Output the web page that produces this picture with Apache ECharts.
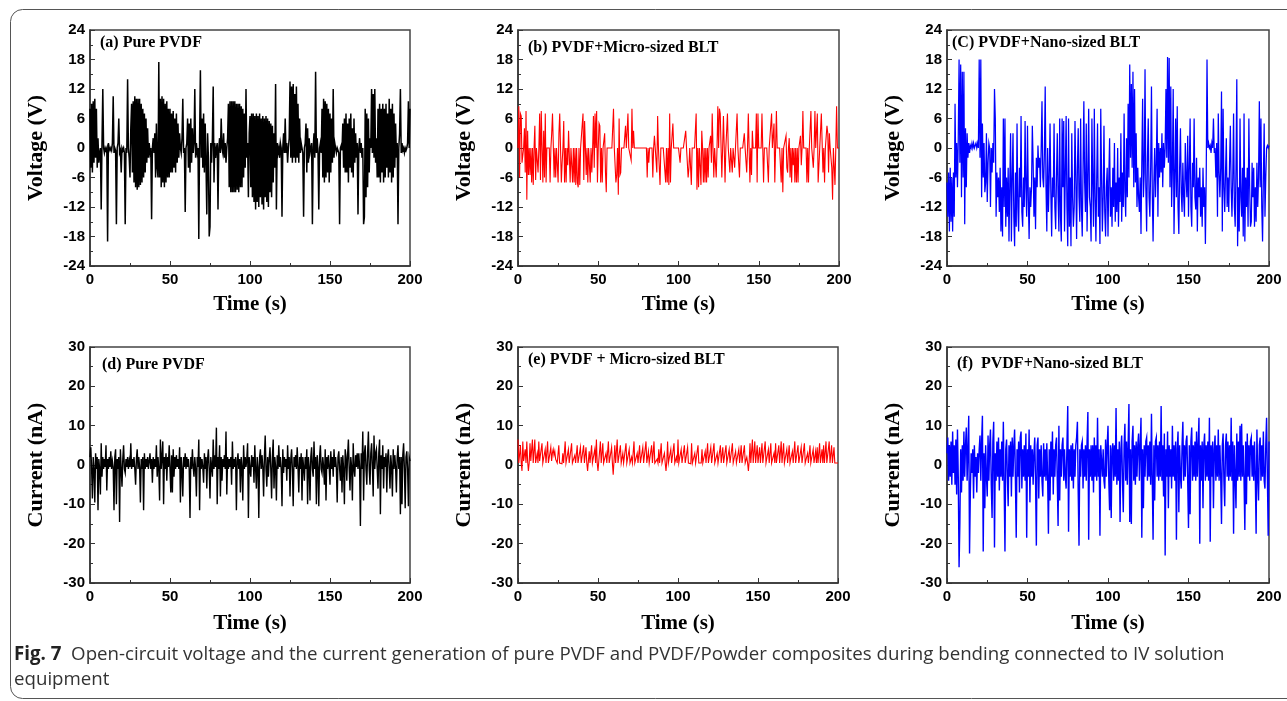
<!DOCTYPE html>
<html>
<head>
<meta charset="utf-8">
<script src="https://cdn.jsdelivr.net/npm/echarts@6/dist/echarts.min.js"></script>
<style>
html,body{margin:0;padding:0;background:#fff;}
#chart{width:1287px;height:701px;}
</style>
</head>
<body>
<div id="chart"></div>
<script>
// ---------------- DATA (one value every 0.5 s, 0..200 s) ----------------
const SAMPLE_STEP_S = 0.5;
const timeTicks = [0, 50, 100, 150, 200];
const voltageTicks = [-24, -18, -12, -6, 0, 6, 12, 18, 24];
const currentTicks = [-30, -20, -10, 0, 10, 20, 30];

// (a) Pure PVDF – open-circuit voltage (V)
const voltagePurePVDF = [
 8,-4,9,-5,9.5,-3,10,-2,8,-4, 2,-3,-1,0,-12.5,1,12,0,-1,0,
 -0.5,0,-19,1,0,-0.5,0,-0.5,1,10.5, -1,0,-0.5,-15.5,0,1,6,-1,-0.5,-5,
 0,-0.5,0,-1,-15.5,0,-1,14,0,-2, -6,4,9,-5,9.5,-7,10.5,-8,10,-8.5,
 10,-8,10,-7.5,9,-7,8,-6,7,-5, 6,-3,4,-2,1,-1,0,-14.5,0,2,
 -1,3,-6,5,-4,-6,17.5,-6,10,-8, 10.5,-7,10,-8,9,-7,9.5,-6,8,-6,
 8,-5,7,-5,7.5,-4,6,-5,7,-3, 5,-2,3,0,-1,2,10,-1,0,-13,
 0,1,6,-4,5,-5,6,-3,4,-1, 1,12,-2,1,-1,0,-18.5,2,15.8,-2,
 6,-4,7,-5,5,-3,-13.5,3,-2,-18, -16,1,-3,2,12.5,-7,1,-2,0,1,
 -12.5,0,2,-1,6,0,-1,3,-2,1, -3,0,2,9,-8,9.5,-9,9.5,-9,9.5,
 -9,9.5,-9,9,-8.5,9,-9,9,-8,8.5, -8,8,-6,7,-4,12,-2,1,-10,3,
 6.5,-8,7,-10,7,-11,6.5,-12.5,7,-11, 6.5,-12,7,-10,6,-11.5,6.5,-12.5,6,-10,
 6.5,-11,6,-12,5.5,-9,5,-10,4.5,-7, 3,-4,13,-12.5,1,-1,0,-2,1,0,
 -14,0,3,-1,6,-1,1,-3,0,2, 13.5,-2,12.5,-3,13,-2,11,-3,12.5,-2,
 9,-3,6,-1,1,0,-1,-14,0,1, 5,-5,4,-3,2,-1,0,1,-15.5,0,
 3,-2,15.5,-1,2,-1,-12.5,0,1,-1, 8,-6,10,-7,9.5,-6,9,-5,8,-7,
 7,-5,6,-3,12,-2,1,0,-1,0, 0,-1,-15.5,0,0.5,-0.5,5,-4,6,-5,
 7,-5,5,-7,6,-4,7,-5,4,-6, 6,-3,3,-2,1,-13.5,0,2,-1,1,
 -2,0,-15.5,-14,8,-10,7,-8,6,-5, 2,0,12,-1,11,-2,12,-3,2,-6,
 8,-6,9,-7,8,-5,9,-7,8,-6, 9,-4,7,-6,10,-5,8,-7,9,-6,
 7,-4,5,-2,1,-15.5,0,3,12,-1, 1,-0.5,0,-1,0,-0.5,0,1,9.5,0,
 8
];

// (b) PVDF + Micro-sized BLT – open-circuit voltage (V)
const voltageMicroBLT = [
 0,8.5,-6,7,6.5,-3,-3,0,4,-5, 7.5,-10.5,3.5,-5.5,0,-5.5,0,-7,0,-7.5,
 0,4.5,-6.5,0,-2.5,-5,0,7,-6.5,7.5, 0,-7,3.5,-6,7,-7,0,0,0,0,
 -7,0,3,7,7,-6,0,-6,0,0, -7,3,7,7,-7,-3,0,5.5,-7,0,
 -7,0,-3.5,3.5,3.5,-7,0,0,-7,0, -7,0,-7.5,0,-7,-8,0,-7.5,0,0,
 0,7,-6.5,5.5,0,-5.5,0,-7,0,0, -7,0,-5,0,6.5,-4,7,0,7.5,-7,
 0,5,4.5,-7,0,-7,0,0,3,-5, -9,0,0,0,0,0,0,0,0,8,
 0,0,-7,-5.5,0,-9.5,6,-5.5,-5,0, 0,0,0,0,4.5,0,0,7,0,0,
 0,-2.5,8,0,3.5,0,0,0,0,0, 0,0,0,0,0,0,0,0,0,0,
 0,-6,0,-3,0,0,0,0,-6,0, 2.5,0,0,-5,6.5,0,0,-7.5,0,0,
 0,0,0,0,-7,0,-7,0,-7.5,7, -7,0,0,5,0,0,0,0,0,0,
 0,0,-3,0,0,0,0,0,0,3.5, 0,0,-6,-4,0,0,-7.5,0,0,0,
 0,0,7,-8.5,0,-8,0,0,-7.5,3.5, 0,-7,0,-7,0,-7,0,-6,0,0,
 2.5,-3,7,0,-6,0,0,-6,0,8.5, 0,8,7,7,-6,0,6.5,0,-7,0,
 0,7,0,0,-5,0,0,-5,0,0, -4,0,0,7,0,0,-6,0,0,0,
 0,0,3,0,0,-5,0,7,0,-7, 0,-5.5,3.5,0,0,0,0,7,-7,7,
 0,0,0,0,7,0,-7,0,0,0, 0,0,-7,0,0,0,7,0,0,5,
 -7,0,7.5,0,0,0,0,0,-7,0, -9,0,0,0,2.5,-4,-5,0,2,-6,
 0,-7,0,-3.5,0,-7,0,-7,0,-7, 0,0,2.5,-3.5,0,7.5,0,0,0,0,
 -7,0,-7,0,0,7.5,0,0,-4,0, 7.5,0,0,7,-7,-7,0,0,7,7,
 -5,0,-7,0,0,4.5,3,-5,3,0, 0,-4,-10.5,0,0,-7.5,0,8.5,0,0,
 0
];

// (c) PVDF + Nano-sized BLT – open-circuit voltage (V)
const voltageNanoBLT = [
 -7,-14,-5,-17,-4,-15,-6,-17,-5,-14, 9,-6,1,-8,2,18,-3,17,-10,15.5,
 -6,15.5,-15.5,4,-8,3,-2,1,-1,0.5, 0,1,0,1,0,0.5,1,0,1,0,
 18,-2,18,-10,5,-6,1,-9,-7,3, -11,-3,1,0,-12,0,-5,1,-3,12,
 6,-14,-5,-10,-6,-13,-4,-17,-8,-18, 6,-12,6,-16,-6,-14,-4,-19,-7,3,
 -19,-6,3,-14,-20,-5,-16,5,-12,-17, -4,-10,6.5,-13,-16,-6,-12,5.5,-8,-14,
 4.5,-10,-18.5,-8,-12,-8,4.5,-3,-14,-6, -16.5,-2,-8,0.5,-4,-2,-8,0,9.5,-6,
 -8,-1,12.5,-8,-17,0,-13,-6,5,-9, -18,-6,-10,5,-12,-16.5,-6,3,-10,-17,
 6,-14,-19,6,-8,5.5,-17,-5,6.5,-12, -20,6,-16,-6,-20,3,-10,-16,-12,5.5,
 -6,-18.5,-4,4,-10,-15,6,-12,-18,-4, 9.5,-7,-13,5,-17,-6,8,-10,-12,-19,
 6,-7,-16,8,-10,-19,-6,5,-14,-8, -19.5,8,-6,-17,-10,4.5,-13,-18,-8,-4,
 -18,-6,2,-14,-8,-16,-4,-12,1,-15, -7,-13,0,-16,-6,-11,3,-15,-5,-12,
 7,-9,-14,2,-10,9,-6,17,-2,13, -4,15.5,-8,12,-7,3,-12,-4,-10,-13,
 -6,-17.5,-3,10,-10,-5,16,-8,-17,-2, 6,-10,-14,-4,12.5,-9,-19,-7,0,-10,
 -3,8,-14,1,-6,0,-5,3,-8,1, -4,0,12,-2,18.5,-3,18.3,-8,12.5,-12,
 -4,12,-17.5,-6,6,-10,8.5,-12,-17.5,-4, 4,-9,-13,-3,-10,-14,1,-6,-10,2.5,
 -14,-4,6,-12,-16,-3,-8,6,-10,-12.5, -2,-17,-6,-10,-4,-14,-8,-16,-4,-12,
 -8,-19.5,-6,18,0,1,0,0.5,-1,1, 0,6,-1,0,-6,1,-14,7,-5,-10,
 -4,11.5,-17,8,-8,-13,-5,2,-12,-6, -13,-3,4.5,-8,-14,-6,7,-12,-16,-4,
 14,-20,-8,-17,6,-10,-14,-4,-18,7, -19,-6,-12,-4,-16,6,-8,-16,-15,-3,
 -10,-4,-16,-8,-15,-3,-12,-6,9.5,-8, 6,-12,-19,-6,5,-14,-6,0,0.5,0,
 0.5
];

// (d) Pure PVDF – current (nA)
const currentPurePVDF = [
 2,4.5,-1,-8.5,2,-1,-9.5,3,-1,2, -11.5,1.5,-1,-7.5,5.5,-3,2,-1,1.5,-0.5,
 5,-6.5,1.5,-1,2,-0.5,3.5,-1,1,-0.5, -11.5,2,4,-10,1.5,-1,2,-14.5,4,-1,
 -5.5,1.5,5,-1,-2,1.5,-0.5,2,-1,1, -0.5,5.5,-1,1.5,-0.5,2,-1,-5,1.5,4,
 -1,2,-0.5,-9.5,1.5,-1,2,-11.5,3,-1, 1.5,-0.5,2,-1,1,3,-1,1.5,-4.5,2,
 -1,1.5,-0.5,5,-3,2,-1,-9,6.5,-1, 2,6,-10,2,-1,3,-4,2,-0.5,5,
 -1,-7,2.5,-7,4,-3,2,-1,2.5,-0.5, 1.5,-1,4.5,-9.5,2,-1,-8,2,-0.5,3,
 -1,2,-0.5,1.5,-1,-13.5,2,-1,4,-0.5, -3,2,-1,-8,2,-0.5,6.5,-11.5,2,-1,
 1.5,-0.5,-4.5,3,-1,2,-6,1.5,4,-1, -8.5,2,-0.5,-3,6.5,-1,2.5,-0.5,9.5,-10,
 2,-1,5,-8,2,-4,1.5,-0.5,2.5,-1, 8.5,-7.5,2,-1,1.5,-0.5,2,-5,6,-1,
 1.5,-0.5,2,-11.5,1,3,-1,1.5,-7,2, -0.5,-9,5,-1,2,-0.5,1.5,5.5,-13.5,2,
 -1,-3,2.5,-0.5,2,-4.5,5,-1,-6,2, -0.5,-13.5,2,4,-1,2.5,-0.5,-8,2,7.5,
 -1,-5.5,2,-3,1.5,4.5,-1,-8.5,2,6.5, -6,2,-0.5,-9,2.5,-1,5,-0.5,2,-1,
 -10.5,4,-2,2,-0.5,1.5,-4,5,-1,2, -8,1.5,4,-1,-10.5,2,-0.5,2.5,-1,4.5,
 -0.5,-7,2,-1,3,-9,2,-0.5,-4,2, -1,4,-10,2,-0.5,-9,2,4.5,-1,-3,
 6,-1,2,-10,2.5,-0.5,-10.5,2,5,-1, -2,2,-0.5,-5,4,-9,2,-1,2.5,-0.5,
 -5,3.5,-1,2,-3,4,-0.5,2,-1,-9.5, 2,3.5,-1,-4,2,-7,2.5,-1,-10,4,
 2,-4,2.5,6.5,-1,-6.5,2,-0.5,-9,5.5, -1,-3,2.5,-0.5,3,-1,3,-0.5,-15.5,3,
 -1,8.5,-9,3,5,-1,-5,3,8.5,-1, -5,3,5.5,-0.5,-8,7.5,-1,3,4,-1,
 -6,3,6.5,-12.5,2.5,-1,5,-6,2,-0.5, 3,-7,2,4,-1,-6,2.5,-0.5,-8,4,
 -1,2.5,-0.5,-7,2,5,-1,2,-12.5,2, -10,2.5,5.5,-1,-11,2,3.5,-1,-10.5,2,
 1
];

// (e) PVDF + Micro-sized BLT – current (nA)
const currentMicroBLT = [
 6.5,0.5,1,5,0.5,-1.5,6,1,0.5,4, 0.5,6,1,-1.5,0.5,5.5,1,0.5,6.5,0.5,
 1,6.5,0.5,1,3,0.5,6,1,0.5,1.5, 5.5,0.5,1,0.5,4,0.5,1,6,0.5,1,
 0.5,4.5,1,3,4,2.5,3.5,1.5,1,0.5, 0.5,5,0.5,1,0.5,0.3,3,0.5,1,6,
 0.5,1,0.5,4,0.5,1,0.5,5.5,0.5,1, 0.3,2.5,0.5,1,5,0.5,1,0.5,4.5,0.5,
 1,0.5,5,0.5,1,4.5,0.5,-1.5,1,3.5, 0.5,1,5,0.5,1,0.5,4,0.5,6.5,0.5,
 -1.5,1,0.5,6,0.5,1,5.5,0.5,1,0.5, 3,0.5,1,6,0.5,1,0.5,4.5,0.5,-2.5,
 1,5,0.5,1,6.5,0.5,1,0.5,5,0.5, 1,3,0.5,1,0.5,5.5,0.5,1,0.5,4,
 0.5,1,2,0.5,1,6,0.5,1,0.5,3, 0.5,1,5,0.5,1,0.5,4.5,0.5,1,0.5,
 6,0.5,1,3.5,0.5,1,0.5,5,0.5,1, 6,0.5,1,0.5,1.5,0.5,4,0.5,1,5.5,
 0.5,1,0.5,3,0.5,-1.5,1,6,0.5,1, 0.5,4,0.5,1,0.5,5.5,0.5,1,2,0.5,
 6.5,0.5,1,0.5,4,0.5,1,0.5,5,0.5, 1,0.5,4.5,0.5,1,0.5,0.3,5.5,0.5,1,
 0.5,3,0.5,1,0.5,5,0.5,1,0.3,0.5, 4,0.5,1,0.5,3.5,0.5,1,5.5,0.5,1,
 0.5,4.5,0.5,1,0.5,5.5,0.5,1,0.5,3, 0.5,1,0.5,5,0.5,1,4.5,0.5,1,0.5,
 5,0.5,1,0.5,4,0.5,1,0.5,5.5,0.5, 1,0.5,3.5,0.5,1,0.5,4,0.5,1,5,
 0.5,1,0.5,5,0.5,1,2,0.5,-1.5,1, 5.5,0.5,1,6.5,0.5,1,6,0.5,1,5,
 0.5,1,4.5,0.5,1,5.5,0.5,1,0.5,6, 0.5,1,0.5,4,0.5,1,5.5,0.5,1,0.5,
 3,0.5,5.5,0.5,1,0.5,5,0.5,1,6, 0.5,1,5.5,0.5,1,0.5,4,0.5,1,5,
 0.5,1,0.5,3.5,0.5,1,6,0.5,1,0.5, 5,0.5,1,0.5,4.5,0.5,1,0.5,5.5,0.5,
 1,0.5,3,0.5,1,5,0.5,1,0.5,4, 0.5,1,3.5,0.5,4.5,0.5,1,5.5,0.5,1,
 4,0.5,5,0.5,1,6,0.5,1,0.5,6, 0.5,1,5,0.5,1,4.5,0.5,1,0.5,0.5,
 0.5
];

// (f) PVDF + Nano-sized BLT – current (nA)
const currentNanoBLT = [
 3,7,-4,5,-3,6,-5,8.5,-2,5, -5,6.5,-7.5,9,-3,-26,-14.5,4,-7,5,
 -4,8.5,-3,5,9.5,-4,4,12.5,-22.5,-7, 3,-2,4,-8.5,5,-3,2,-7,3,-2,
 4,7.5,-4,6,12.5,-22,3,-11,5,-3, -8,7.5,-4,5,9,-5,-13.5,6,11,-21,
 3,-4,6,-3,7,-6.5,4,-3,6,-4, 11,-5,-22,4,6.5,-3,-10.5,5,-3,6,
 -8,7,-3,5,9,-4,-18.5,4,-3,6, -7,7,8.5,-6,4,-3,5,-4,8,-18.5,
 4,-3,9,-9.5,5,-3,4,-5,3,7, -4,-20.5,5,7,-8.5,4,-3,5,-4,-8,
 5.5,-3,4,-4,5.5,-3,-17.5,4,-9,6, -3,8.5,-7.5,4,-3,5,7,-4,-15.5,10,
 -9,4,-3,5,7,-4,4,-3,-6,5, 15,-17,4,-3,5,-4,5.5,-6,4,-3,
 5,7,11,-7,-20.5,4,-3,5,6,-6, 4,-3,5,-4,6,13.5,-19,4,-3,5,
 -4,5,-7,7,-3,5,-4,12,-3,4, -18,5,5,-3,4,-4,-6,6.5,-3,5,
 10,-4,-11.5,5,-13.5,4,5.5,-4,5,-3, 14.5,-5,4,-4,6,-14.5,4,7.5,-4,-12,
 5,10.5,-4,6,-5,5,15.5,-14.5,4,-15, 6,10,-4,5,-5,6,-3,5,8,-4,
 5,12,-18.5,4,-11,5,-3,6,7,-4, 5,-3,6,-5,13,-4,-19,5,-9,6,
 7,-3,5,-4,6,-3,15,-4,5,-8, 8,-23,4,-3,8.5,-11,5,-3,4,-6,
 10,-3,5,-4,6,-19,4,8.5,-12,5, -3,-6,5,11,-4,5,-3,6,7.5,-4,
 -16,5,-12.5,6,9.5,-4,5,-3,6,-4, 8.5,-3,5,12,-20,5,-4,6,-11,5,
 8,-4,5,-3,6,-4,12,-19.5,5,-3, 6,-11,4,7.5,-4,5,-3,9,-4,5,
 -3,-15,5,8,-4,-10.5,5,8,-3,6, -4,5,-3,12,-4,6,-17.5,5,-3,-11,
 8,-4,6,-3,10,-4,10.5,-3,5,-4, -16.5,6,-10,8,-3,5,-4,6,7,-3,
 5,-4,6,-3,-17.5,9,-3,-9,5,7, -4,5,-3,8.5,-4,-6,5,12,-3,-18,
 6
];

const panelLabels = ['(a) Pure PVDF', '(b) PVDF+Micro-sized BLT', '(C) PVDF+Nano-sized BLT',
                     '(d) Pure PVDF', '(e) PVDF + Micro-sized BLT', '(f)  PVDF+Nano-sized BLT'];
const xAxisTitle = 'Time (s)';
const yTitles = ['Voltage (V)', 'Current (nA)'];
const captionBold = 'Fig. 7';
const captionLine1 = 'Open-circuit voltage and the current generation of pure PVDF and PVDF/Powder composites during bending connected to IV solution';
const captionLine2 = 'equipment';

// ---------------- LAYOUT / STYLE ----------------
const panels = [
  { values: voltagePurePVDF, color: '#000000', lw: 1.5, ticks: voltageTicks, yTitle: 0, grid: {left: 90, top: 30, width: 320, height: 236}, label: [100, 45], nameGap: 28 },
  { values: voltageMicroBLT, color: '#ff0000', lw: 1.1, ticks: voltageTicks, yTitle: 0, grid: {left: 518, top: 30, width: 321, height: 236}, label: [528, 50], nameGap: 28 },
  { values: voltageNanoBLT,  color: '#0000ff', lw: 1.25, ticks: voltageTicks, yTitle: 0, grid: {left: 947, top: 30, width: 322, height: 236}, label: [952, 45], nameGap: 28 },
  { values: currentPurePVDF, color: '#000000', lw: 1.4, ticks: currentTicks, yTitle: 1, grid: {left: 90, top: 347, width: 320, height: 236}, label: [102, 367], nameGap: 30 },
  { values: currentMicroBLT, color: '#ff0000', lw: 1.1, ticks: currentTicks, yTitle: 1, grid: {left: 518, top: 347, width: 320, height: 236}, label: [528, 362], nameGap: 30 },
  { values: currentNanoBLT,  color: '#0000ff', lw: 1.4, ticks: currentTicks, yTitle: 1, grid: {left: 947, top: 347, width: 322, height: 236}, label: [957, 366], nameGap: 30 }
];

const AXIS_COLOR = '#333';
const tickFont = {fontFamily: 'Liberation Sans, Arial, sans-serif', fontWeight: 'bold', fontSize: 15, color: '#000'};
const titleFontX = {fontFamily: 'Liberation Serif, Times New Roman, serif', fontWeight: 'bold', fontSize: 21, color: '#000'};
const titleFontY = {fontFamily: 'Liberation Serif, Times New Roman, serif', fontWeight: 'bold', fontSize: 22, color: '#000'};

const grids = [], xAxes = [], yAxes = [], series = [], graphics = [];

panels.forEach((p, i) => {
  grids.push(Object.assign({show: true, borderColor: '#444', borderWidth: 1.5, backgroundColor: 'transparent'}, p.grid));
  xAxes.push({
    type: 'value', gridIndex: i,
    min: timeTicks[0], max: timeTicks[timeTicks.length - 1], interval: timeTicks[1] - timeTicks[0],
    axisLine: {show: true, onZero: false, lineStyle: {color: AXIS_COLOR, width: 1.5}},
    axisTick: {show: true, inside: true, length: 5, lineStyle: {color: AXIS_COLOR}},
    minorTick: {show: true, splitNumber: 2, length: 3, lineStyle: {color: AXIS_COLOR}},
    splitLine: {show: false},
    axisLabel: Object.assign({margin: 6, showMinLabel: true, showMaxLabel: true}, tickFont),
    name: xAxisTitle, nameLocation: 'middle', nameGap: p.nameGap, nameTextStyle: titleFontX
  });
  yAxes.push({
    type: 'value', gridIndex: i,
    min: p.ticks[0], max: p.ticks[p.ticks.length - 1], interval: p.ticks[1] - p.ticks[0],
    axisLine: {show: true, onZero: false, lineStyle: {color: AXIS_COLOR, width: 1.5}},
    axisTick: {show: true, inside: true, length: 5, lineStyle: {color: AXIS_COLOR}},
    minorTick: {show: true, splitNumber: 2, length: 3, lineStyle: {color: AXIS_COLOR}},
    splitLine: {show: false},
    axisLabel: Object.assign({margin: 5, showMinLabel: true, showMaxLabel: true}, tickFont),
    name: yTitles[p.yTitle], nameLocation: 'middle', nameGap: 43, nameTextStyle: titleFontY
  });
  series.push({
    type: 'line', xAxisIndex: i, yAxisIndex: i,
    data: p.values.map((v, k) => [k * SAMPLE_STEP_S, v]),
    showSymbol: false, symbol: 'none', sampling: null, clip: true,
    lineStyle: {color: p.color, width: p.lw, join: 'miter'}, itemStyle: {color: p.color},
    animation: false, silent: true
  });
  graphics.push({
    type: 'text', left: p.label[0], top: p.label[1] - 10,
    style: {text: panelLabels[i], fontFamily: 'Liberation Serif, Times New Roman, serif', fontWeight: 'bold', fontSize: 16, fill: '#000'}
  });
});

// frame around the figure
graphics.push({
  type: 'rect', shape: {x: 10.5, y: 9.5, width: 1320, height: 689, r: 12},
  style: {fill: 'none', stroke: '#555', lineWidth: 1}, z: -1
});
// caption
graphics.push({
  type: 'text', left: 14, top: 645,
  style: {
    text: '{b|' + captionBold + '}  ' + captionLine1,
    rich: {b: {fontFamily: 'Open Sans, Noto Sans, sans-serif', fontWeight: 'bold', fontSize: 18.7, fill: '#222'}},
    fontFamily: 'Open Sans, Noto Sans, sans-serif', fontSize: 18.7, fill: '#333'
  }
});
graphics.push({
  type: 'text', left: 14, top: 670,
  style: {text: captionLine2, fontFamily: 'Open Sans, Noto Sans, sans-serif', fontSize: 18.7, fill: '#333'}
});

const chart = echarts.init(document.getElementById('chart'), null, {renderer: 'canvas'});
chart.setOption({
  animation: false,
  backgroundColor: '#ffffff',
  grid: grids, xAxis: xAxes, yAxis: yAxes, series: series, graphic: graphics
});
</script>
</body>
</html>
